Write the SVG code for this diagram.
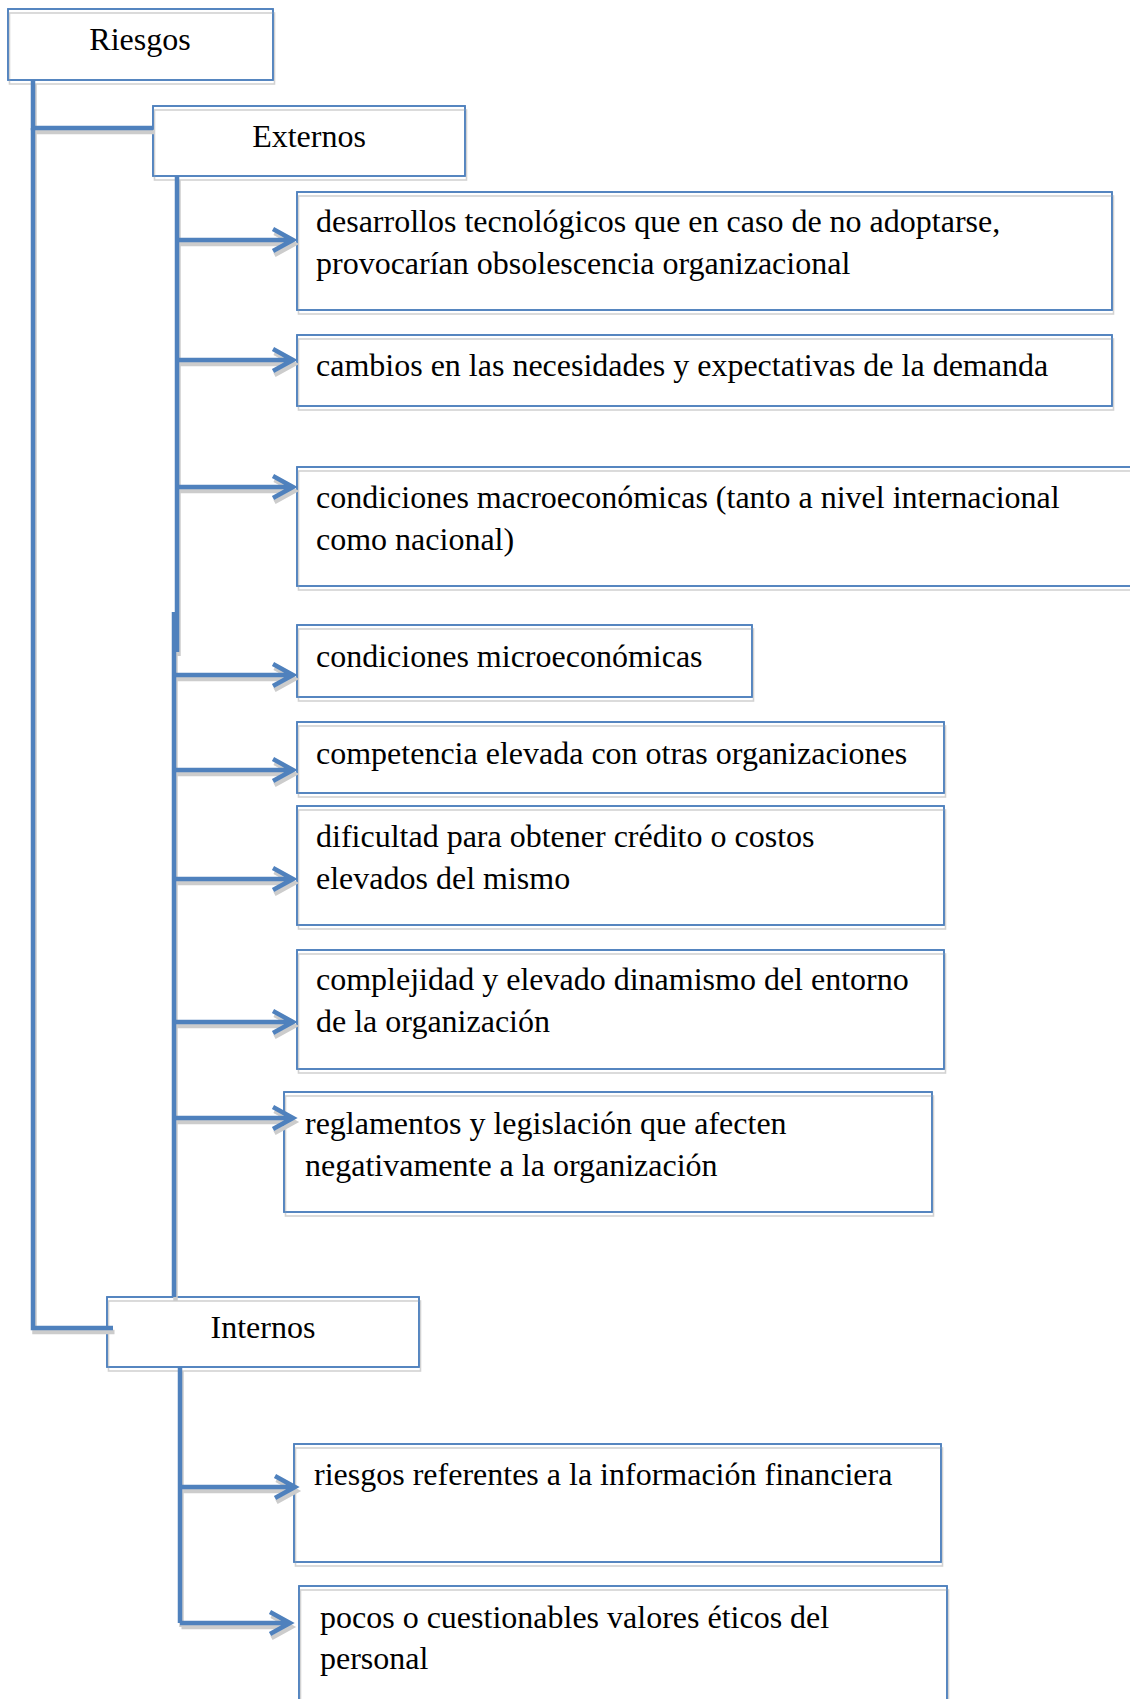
<svg xmlns="http://www.w3.org/2000/svg" xmlns:xlink="http://www.w3.org/1999/xlink" width="1130" height="1699" viewBox="0 0 1130 1699">
<style>
  .box { fill: #ffffff; stroke: #4f81bd; stroke-width: 1.6; }
  .sh { fill: none; stroke: #d2d2d2; stroke-width: 1.6; }
  text { font-family: "Liberation Serif", "Times New Roman", serif; font-size: 32px; fill: #000000; }
  .c { text-anchor: middle; }
</style>
<defs>
  <g id="links" fill="none">
    <path id="l-riesgos-externos" d="M33 80 V128 H153"/>
    <path id="l-riesgos-internos" d="M33 128 V1328 H113"/>
    <path id="l-externos-spine-a" d="M177 176 V652"/>
    <path id="l-externos-spine-b" d="M174 612 V1297"/>
    <path id="a-e1" d="M177 240 H292 M273 229 L293 240 L273 251"/>
    <path id="a-e2" d="M177 360 H292 M273 349 L293 360 L273 371"/>
    <path id="a-e3" d="M177 487 H292 M273 476 L293 487 L273 498"/>
    <path id="a-e4" d="M174 675 H292 M273 664 L293 675 L273 686"/>
    <path id="a-e5" d="M174 770 H292 M273 759 L293 770 L273 781"/>
    <path id="a-e6" d="M174 879 H292 M273 868 L293 879 L273 890"/>
    <path id="a-e7" d="M174 1022 H292 M273 1011 L293 1022 L273 1033"/>
    <path id="a-e8" d="M174 1118 H292 M273 1107 L293 1118 L273 1129"/>
    <path id="l-internos-spine" d="M180 1367 V1623"/>
    <path id="a-i1" d="M180 1487 H294 M275 1476 L295 1487 L275 1498"/>
    <path id="a-i2" d="M180 1623 H289 M270 1612 L290 1623 L270 1634"/>
  </g>
</defs>

<g id="nodes">
  <g id="n-riesgos">
    <rect class="box" x="8" y="9" width="265" height="71"/>
    <rect class="sh" x="9.5" y="13" width="265" height="71"/>
    <rect class="box" x="8" y="9" width="265" height="71" style="fill:none"/>
    <text class="c" x="140" y="50">Riesgos</text>
  </g>
  <g id="n-externos">
    <rect class="box" x="153" y="106" width="312" height="70"/>
    <rect class="sh" x="154.5" y="110" width="312" height="70"/>
    <rect class="box" x="153" y="106" width="312" height="70" style="fill:none"/>
    <text class="c" x="309" y="147">Externos</text>
  </g>
  <g id="n-e1">
    <rect class="box" x="297" y="192" width="815" height="118"/>
    <rect class="sh" x="298.5" y="196" width="815" height="118"/>
    <rect class="box" x="297" y="192" width="815" height="118" style="fill:none"/>
    <text x="316" y="232">desarrollos tecnológicos que en caso de no adoptarse,</text>
    <text x="316" y="274">provocarían obsolescencia organizacional</text>
  </g>
  <g id="n-e2">
    <rect class="box" x="297" y="335" width="815" height="71"/>
    <rect class="sh" x="298.5" y="339" width="815" height="71"/>
    <rect class="box" x="297" y="335" width="815" height="71" style="fill:none"/>
    <text x="316" y="376">cambios en las necesidades y expectativas de la demanda</text>
  </g>
  <g id="n-e3">
    <rect class="box" x="297" y="467" width="845" height="119"/>
    <rect class="sh" x="298.5" y="471" width="845" height="119"/>
    <rect class="box" x="297" y="467" width="845" height="119" style="fill:none"/>
    <text x="316" y="508">condiciones macroeconómicas (tanto a nivel internacional</text>
    <text x="316" y="550">como nacional)</text>
  </g>
  <g id="n-e4">
    <rect class="box" x="297" y="625" width="455" height="72"/>
    <rect class="sh" x="298.5" y="629" width="455" height="72"/>
    <rect class="box" x="297" y="625" width="455" height="72" style="fill:none"/>
    <text x="316" y="667">condiciones microeconómicas</text>
  </g>
  <g id="n-e5">
    <rect class="box" x="297" y="722" width="647" height="71"/>
    <rect class="sh" x="298.5" y="726" width="647" height="71"/>
    <rect class="box" x="297" y="722" width="647" height="71" style="fill:none"/>
    <text x="316" y="764">competencia elevada con otras organizaciones</text>
  </g>
  <g id="n-e6">
    <rect class="box" x="297" y="806" width="647" height="119"/>
    <rect class="sh" x="298.5" y="810" width="647" height="119"/>
    <rect class="box" x="297" y="806" width="647" height="119" style="fill:none"/>
    <text x="316" y="847">dificultad para obtener crédito o costos</text>
    <text x="316" y="889">elevados del mismo</text>
  </g>
  <g id="n-e7">
    <rect class="box" x="297" y="950" width="647" height="119"/>
    <rect class="sh" x="298.5" y="954" width="647" height="119"/>
    <rect class="box" x="297" y="950" width="647" height="119" style="fill:none"/>
    <text x="316" y="990">complejidad y elevado dinamismo del entorno</text>
    <text x="316" y="1032">de la organización</text>
  </g>
  <g id="n-e8">
    <rect class="box" x="284" y="1092" width="648" height="120"/>
    <rect class="sh" x="285.5" y="1096" width="648" height="120"/>
    <rect class="box" x="284" y="1092" width="648" height="120" style="fill:none"/>
    <text x="305" y="1134">reglamentos y legislación que afecten</text>
    <text x="305" y="1176">negativamente a la organización</text>
  </g>
  <g id="n-internos">
    <rect class="box" x="107" y="1297" width="312" height="70"/>
    <rect class="sh" x="108.5" y="1301" width="312" height="70"/>
    <rect class="box" x="107" y="1297" width="312" height="70" style="fill:none"/>
    <text class="c" x="263" y="1338">Internos</text>
  </g>
  <g id="n-i1">
    <rect class="box" x="294" y="1444" width="647" height="118"/>
    <rect class="sh" x="295.5" y="1448" width="647" height="118"/>
    <rect class="box" x="294" y="1444" width="647" height="118" style="fill:none"/>
    <text x="314" y="1485">riesgos referentes a la información financiera</text>
  </g>
  <g id="n-i2">
    <rect class="box" x="299" y="1586" width="648" height="140"/>
    <rect class="sh" x="300.5" y="1590" width="648" height="140"/>
    <rect class="box" x="299" y="1586" width="648" height="140" style="fill:none"/>
    <text x="320" y="1628">pocos o cuestionables valores éticos del</text>
    <text x="320" y="1669">personal</text>
  </g>
</g>

<g id="connectors">
  <g stroke="#cccccc" stroke-width="4.5" transform="translate(1.5,4)">
    <use href="#links"/>
  </g>
  <g stroke="#4f81bd" stroke-width="4.5">
    <use href="#links"/>
  </g>
</g>
</svg>
